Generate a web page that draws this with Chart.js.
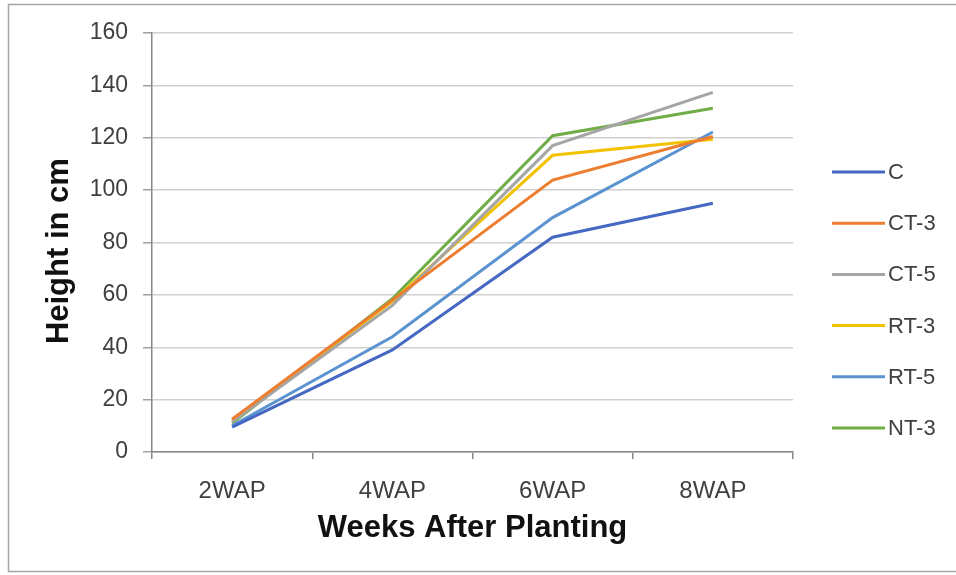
<!DOCTYPE html>
<html>
<head>
<meta charset="utf-8">
<title>Height in cm</title>
<script src="https://cdn.jsdelivr.net/npm/chart.js@4"></script>
<style>
  html, body { margin: 0; padding: 0; background: #ffffff; }
  canvas { display: block; }
</style>
</head>
<body>
<canvas id="chart" width="956" height="575"></canvas>
<script>
// Plant height (cm) by treatment, measured every two weeks after planting
const weeks = ['2WAP', '4WAP', '6WAP', '8WAP'];
const seriesNames = ['C', 'CT-3', 'CT-5', 'RT-3', 'RT-5', 'NT-3'];
const heightC   = [9.5, 39, 82, 95];
const heightCT3 = [12.5, 58, 103.8, 120.5];
const heightCT5 = [11.5, 56, 117, 137.3];
const heightRT3 = [12, 57.5, 113.3, 119.4];
const heightRT5 = [10, 44, 89.5, 122.2];
const heightNT3 = [11, 58.5, 120.8, 131.3];
const yTicks = [0, 20, 40, 60, 80, 100, 120, 140, 160];

const seriesValues = [heightC, heightCT3, heightCT5, heightRT3, heightRT5, heightNT3];
const seriesColors = ['#4568C2', '#ED7D31', '#A5A5A5', '#F2C200', '#5B93D0', '#70AD47'];

const FONT = '"Liberation Sans", Arial, sans-serif';

// Frame around the whole figure
const framePlugin = {
  id: 'frame',
  beforeDraw(chart) {
    const ctx = chart.ctx;
    ctx.save();
    ctx.fillStyle = '#ffffff';
    ctx.fillRect(0, 0, chart.width, chart.height);
    ctx.strokeStyle = '#a6a6a6';
    ctx.lineWidth = 1.5;
    ctx.strokeRect(8.5, 4.5, chart.width + 10, 567);
    ctx.restore();
  }
};

// Line-sample legend on the right, one row per series
const sideLegend = {
  id: 'sideLegend',
  afterDraw(chart) {
    const ctx = chart.ctx;
    ctx.save();
    ctx.font = '22px ' + FONT;
    ctx.textBaseline = 'middle';
    ctx.textAlign = 'left';
    chart.data.datasets.forEach((ds, i) => {
      const y = 172 + i * 51.2;
      ctx.strokeStyle = ds.borderColor;
      ctx.lineWidth = 3;
      ctx.beginPath();
      ctx.moveTo(832, y);
      ctx.lineTo(885, y);
      ctx.stroke();
      ctx.fillStyle = '#404040';
      ctx.fillText(ds.label, 888, y + 1);
    });
    ctx.restore();
  }
};

new Chart(document.getElementById('chart'), {
  type: 'line',
  data: {
    labels: weeks,
    datasets: seriesNames.map((name, i) => ({
      label: name,
      data: seriesValues[i],
      borderColor: seriesColors[i],
      backgroundColor: seriesColors[i],
      borderWidth: 3,
      pointRadius: 0,
      tension: 0,
      fill: false
    }))
  },
  options: {
    responsive: false,
    devicePixelRatio: 1,
    animation: false,
    layout: { padding: { left: 0, right: 163, top: 33, bottom: 0 } },
    plugins: {
      legend: { display: false },
      tooltip: { enabled: false }
    },
    scales: {
      x: {
        type: 'category',
        offset: true,
        afterFit(scale) { scale.height = 123; },
        grid: {
          offset: true,
          drawOnChartArea: false,
          drawTicks: true,
          tickLength: 7,
          tickColor: '#868686',
          lineWidth: 1.5
        },
        border: { display: true, color: '#868686', width: 1.5 },
        ticks: {
          color: '#404040',
          font: { family: FONT, size: 24 },
          padding: 18,
          maxRotation: 0
        },
        title: {
          display: true,
          text: 'Weeks After Planting',
          color: '#111111',
          font: { family: FONT, size: 31, weight: 'bold' },
          padding: { top: 0, bottom: 28 }
        }
      },
      y: {
        min: 0,
        max: 160,
        afterFit(scale) { scale.width = 152; },
        afterBuildTicks(scale) { scale.ticks = yTicks.map(v => ({ value: v })); },
        grid: {
          color: '#d0d0d0',
          lineWidth: 1.5,
          drawTicks: true,
          tickLength: 9,
          tickColor: '#a0a0a0'
        },
        border: { display: true, color: '#868686', width: 1.5 },
        ticks: {
          color: '#404040',
          font: { family: FONT, size: 23 },
          padding: 15
        },
        title: {
          display: true,
          text: 'Height in cm\u00a0\u00a0',
          color: '#111111',
          font: { family: FONT, size: 31, weight: 'bold' },
          padding: { top: 41, bottom: 0 }
        }
      }
    }
  },
  plugins: [framePlugin, sideLegend]
});
</script>
</body>
</html>
